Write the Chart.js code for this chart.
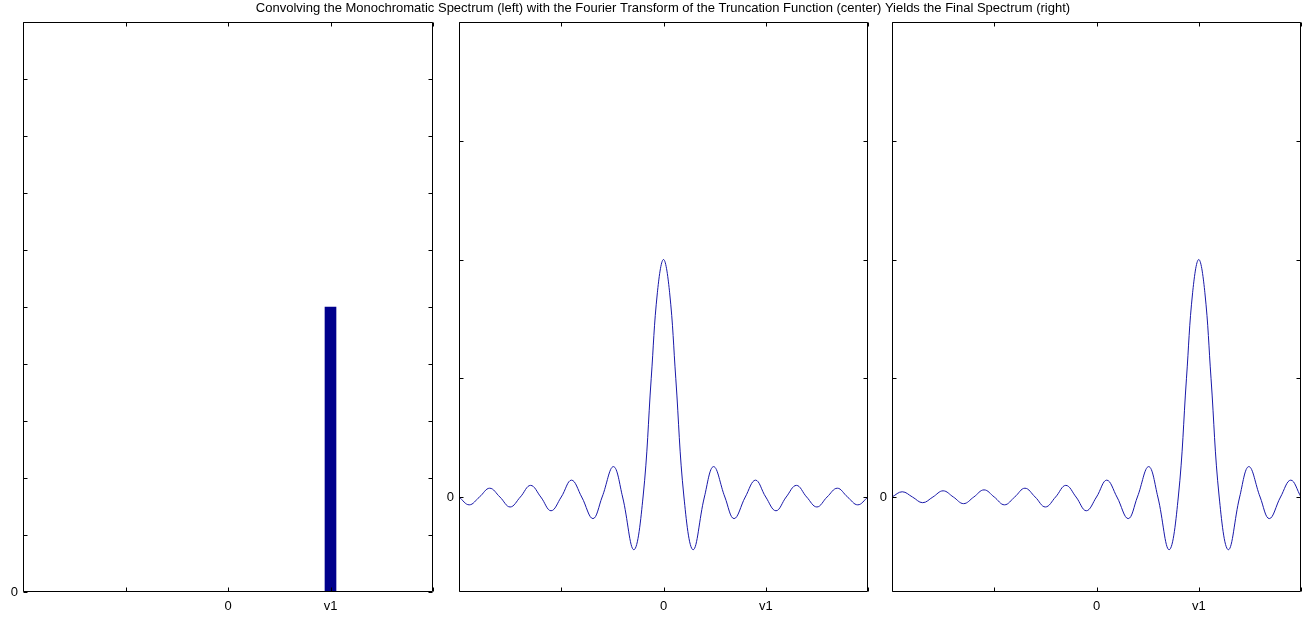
<!DOCTYPE html>
<html><head><meta charset="utf-8">
<script src="https://cdn.jsdelivr.net/npm/chart.js@4.4.1/dist/chart.umd.min.js"></script>
<style>
html,body{margin:0;padding:0;background:#fff;}
#wrap{position:relative;width:1314px;height:617px;overflow:hidden;background:#fff;}
canvas{position:absolute;left:0;top:0;}
</style></head><body>
<div id="wrap">
<canvas id="c1" width="1314" height="617"></canvas>
<canvas id="c2" width="1314" height="617"></canvas>
<canvas id="c3" width="1314" height="617"></canvas>
</div>
<script>
const titleText = 'Convolving the Monochromatic Spectrum (left) with the Fourier Transform of the Truncation Function (center) Yields the Final Spectrum (right)';

// shared x axis
const xTickValues = [-2, -1, 0, 1, 2];
const xTickLabels = ['', '', '0', 'v1', ''];

// left panel: monochromatic spectrum
const leftYTicks = [0, 0.1, 0.2, 0.3, 0.4, 0.5, 0.6, 0.7, 0.8, 0.9, 1];
const leftYLabels = ['0', '', '', '', '', '', '', '', '', '', ''];
const barX = [1];
const barY = [0.5];

// center / right panels y axis
const curveYTicks = [0, 0.5, 1, 1.5, 2];
const curveYLabels = ['0', '', '', '', ''];

// center panel: Fourier transform of truncation function
const centerX = [-2.0, -1.9, -1.8, -1.7, -1.6, -1.5, -1.4, -1.3, -1.2, -1.1, -1.0, -0.9, -0.8, -0.69, -0.6, -0.49, -0.4, -0.29, -0.2, -0.12, -0.06, 0,
                  0.06, 0.12, 0.2, 0.29, 0.4, 0.49, 0.6, 0.69, 0.8, 0.9, 1.0, 1.1, 1.2, 1.3, 1.4, 1.5, 1.6, 1.7, 1.8, 1.9, 2.0];
const centerY = [0, -0.033, 0, 0.037, 0, -0.042, 0, 0.049, 0, -0.058, 0, 0.071, 0, -0.091, 0, 0.128, 0, -0.222, 0, 0.5, 0.86, 1.0,
                  0.86, 0.5, 0, -0.222, 0, 0.128, 0, -0.091, 0, 0.071, 0, -0.058, 0, 0.049, 0, -0.042, 0, 0.037, 0, -0.033, 0];

// right panel: final spectrum
const finalX = [-2.0, -1.9, -1.8, -1.7, -1.6, -1.5, -1.4, -1.3, -1.2, -1.1, -1.0, -0.9, -0.8, -0.7, -0.6, -0.5, -0.4, -0.3, -0.2, -0.1, 0,
                 0.1, 0.2, 0.31, 0.4, 0.51, 0.6, 0.71, 0.8, 0.88, 0.94, 1.0, 1.06, 1.12, 1.2, 1.29, 1.4, 1.49, 1.6, 1.69, 1.8, 1.9, 2.0];
const finalY = [0, 0.022, 0, -0.024, 0, 0.026, 0, -0.028, 0, 0.030, 0, -0.033, 0, 0.037, 0, -0.042, 0, 0.049, 0, -0.058, 0,
                 0.071, 0, -0.091, 0, 0.128, 0, -0.222, 0, 0.5, 0.86, 1.0, 0.86, 0.5, 0, -0.222, 0, 0.128, 0, -0.091, 0, 0.071, 0];

const FONT = '"Liberation Sans Narrow", "Liberation Sans", Arial, sans-serif';
const tickFont = { family: FONT, size: 13 };

const frame = {
  id: 'frame',
  afterDatasetsDraw(chart) {
    const { ctx, chartArea: a, scales: { x, y } } = chart;
    const L = 4;
    ctx.save();
    ctx.strokeStyle = '#000';
    ctx.lineWidth = 1;
    ctx.beginPath();
    const left = Math.round(a.left) + 0.5, right = Math.round(a.right) - 0.5;
    const top = Math.round(a.top) + 0.5, bottom = Math.round(a.bottom) - 0.5;
    x.ticks.forEach(t => {
      const px = Math.round(x.getPixelForValue(t.value)) + 0.5;
      ctx.moveTo(px, bottom); ctx.lineTo(px, bottom - L);
      ctx.moveTo(px, top); ctx.lineTo(px, top + L);
    });
    y.ticks.forEach(t => {
      const py = Math.round(y.getPixelForValue(t.value)) + 0.5;
      ctx.moveTo(left, py); ctx.lineTo(left + L, py);
      ctx.moveTo(right, py); ctx.lineTo(right - L, py);
    });
    ctx.rect(left, top, right - left, bottom - top);
    ctx.stroke();
    ctx.restore();
  }
};

function xScale() {
  return {
    type: 'linear', min: -2, max: 2, offset: false,
    afterBuildTicks: s => { s.ticks = xTickValues.map(v => ({ value: v })); },
    afterFit: s => { s.height = 25; },
    grid: { display: false, offset: false, drawTicks: false, tickLength: 0 },
    border: { display: false },
    ticks: {
      autoSkip: false, maxRotation: 0, padding: 7, color: '#000', font: tickFont,
      callback: v => { const i = xTickValues.indexOf(v); return i >= 0 ? xTickLabels[i] : ''; }
    }
  };
}
function yScale(min, max, vals, labels, w) {
  return {
    type: 'linear', min: min, max: max,
    afterBuildTicks: s => { s.ticks = vals.map(v => ({ value: v })); },
    afterFit: s => { s.width = w; },
    grid: { display: false, drawTicks: false, tickLength: 0 },
    border: { display: false },
    ticks: {
      autoSkip: false, padding: 5, color: '#000', font: tickFont,
      callback: v => { const i = vals.indexOf(v); return i >= 0 ? labels[i] : ''; }
    }
  };
}
function spacer(w) {
  return {
    type: 'linear', position: 'right', display: true,
    afterFit: s => { s.width = w; },
    grid: { display: false, drawTicks: false, tickLength: 0 },
    border: { display: false },
    ticks: { display: false }
  };
}
const common = {
  responsive: false, animation: false, devicePixelRatio: 1,
  events: []
};

new Chart(document.getElementById('c1'), {
  type: 'bar',
  data: { datasets: [{ data: barX.map((x, i) => ({ x: x, y: barY[i] })), backgroundColor: '#00008c', borderWidth: 0, barThickness: 11 }] },
  options: Object.assign({}, common, {
    layout: { padding: { left: 0, right: 881, top: 22, bottom: 0 } },
    plugins: { legend: { display: false }, title: { display: false }, tooltip: { enabled: false } },
    scales: { x: xScale(), y: yScale(0, 1, leftYTicks, leftYLabels, 23) }
  }),
  plugins: [frame]
});

new Chart(document.getElementById('c2'), {
  type: 'line',
  data: { datasets: [{ data: centerX.map((x, i) => ({ x: x, y: centerY[i] })), borderColor: '#1818a8', borderWidth: 1, pointRadius: 0, tension: 0.4, fill: false }] },
  options: Object.assign({}, common, {
    layout: { padding: { left: 12, right: 0, top: 0, bottom: 0 } },
    plugins: {
      legend: { display: false }, tooltip: { enabled: false },
      title: { display: true, text: titleText, fullSize: true, color: '#000', font: { family: FONT, size: 13, weight: 'normal', lineHeight: '14px' }, padding: { top: 1, bottom: 7 } }
    },
    scales: { x: xScale(), y: yScale(-0.4, 2, curveYTicks, curveYLabels, 447), yr: spacer(446) }
  }),
  plugins: [frame]
});

new Chart(document.getElementById('c3'), {
  type: 'line',
  data: { datasets: [{ data: finalX.map((x, i) => ({ x: x, y: finalY[i] })), borderColor: '#1818a8', borderWidth: 1, pointRadius: 0, tension: 0.4, fill: false }] },
  options: Object.assign({}, common, {
    layout: { padding: { left: 869, right: 13, top: 22, bottom: 0 } },
    plugins: { legend: { display: false }, title: { display: false }, tooltip: { enabled: false } },
    scales: { x: xScale(), y: yScale(-0.4, 2, curveYTicks, curveYLabels, 23) }
  }),
  plugins: [frame]
});
</script>
</body></html>
